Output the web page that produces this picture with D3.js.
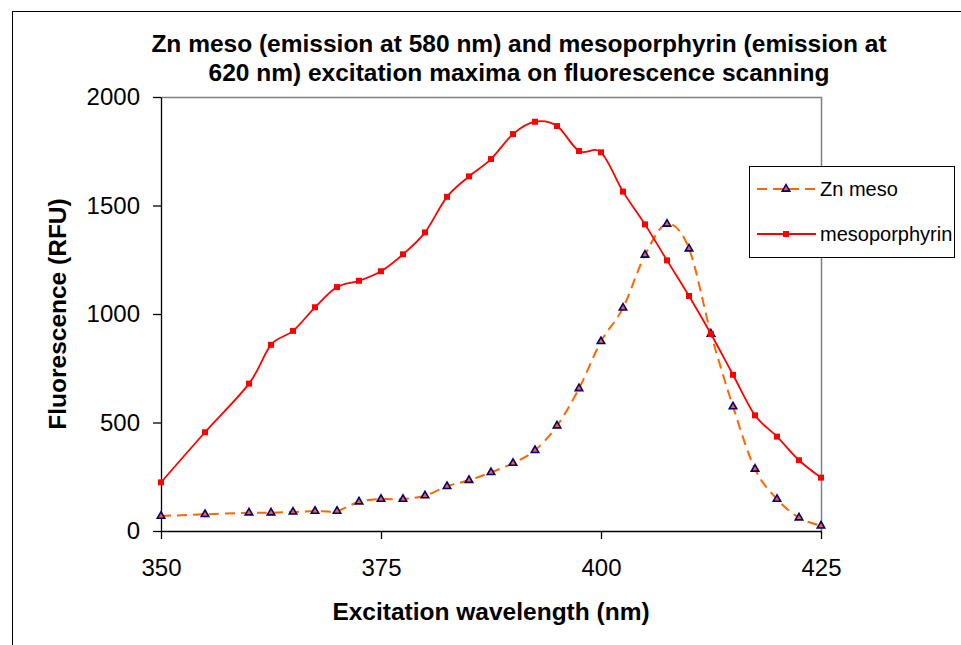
<!DOCTYPE html>
<html>
<head>
<meta charset="utf-8">
<script src="https://cdn.jsdelivr.net/npm/d3@7"></script>
<style>
  body { margin: 0; background: #fff; }
  svg { display: block; font-family: 'Liberation Sans', Arial, sans-serif; }
</style>
</head>
<body>
<div id="container"></div>
<script>
// Data
const wavelength = [350, 355, 360, 362.5, 365, 367.5, 370, 372.5, 375, 377.5, 380, 382.5, 385, 387.5,
  390, 392.5, 395, 397.5, 400, 402.5, 405, 407.5, 410, 412.5, 415, 417.5, 420, 422.5, 425];
const znMeso = [69, 77, 84, 84, 88, 92, 92, 135, 147, 147, 163, 206, 234, 270, 313, 372, 485,
  657, 874, 1028, 1272, 1415, 1301, 908, 573, 286, 147, 61, 24];
const mesoporphyrin = [224, 455, 679, 858, 922, 1031, 1124, 1153, 1197, 1275, 1376, 1540, 1634,
  1714, 1829, 1886, 1866, 1751, 1745, 1564, 1413, 1247, 1083, 908, 720, 533, 435, 326, 246];
const xTicks = [350, 375, 400, 425];
const yTicks = [0, 500, 1000, 1500, 2000];
const titleLines = ['Zn meso (emission at 580 nm) and mesoporphyrin (emission at',
  '620 nm) excitation maxima on fluorescence scanning'];
const seriesNames = ['Zn meso', 'mesoporphyrin'];

const svgWidth = 961;
const svgHeight = 645;
const plot = { left: 161, right: 821, top: 97, bottom: 531 };

const svg = d3
  .select('#container')
  .append('svg')
  .attr('width', svgWidth)
  .attr('height', svgHeight);

// chart area border
svg
  .append('rect')
  .attr('x', 12.5)
  .attr('y', 11.5)
  .attr('width', 1000)
  .attr('height', 700)
  .attr('fill', '#fff')
  .attr('stroke', '#000')
  .attr('stroke-width', 1);

// Title
svg
  .append('g')
  .selectAll('text')
  .data(titleLines)
  .enter()
  .append('text')
  .attr('x', 519)
  .attr('y', (d, i) => 43 + i * 29)
  .attr('dy', '0.36em')
  .attr('text-anchor', 'middle')
  .attr('font-size', '24.5px')
  .attr('font-weight', 'bold')
  .text(d => d);

// Scales
const xScale = d3.scaleLinear().domain([350, 425]).range([plot.left, plot.right]);
const yScale = d3.scaleLinear().domain([0, 2000]).range([plot.bottom, plot.top]);

// plot area border (top + right, grey)
svg
  .append('path')
  .attr('d', `M${plot.left},${plot.top + 0.5}H${plot.right + 0.5}V${plot.bottom}`)
  .attr('fill', 'none')
  .attr('stroke', '#808080')
  .attr('stroke-width', 1.5);

// X-AXIS
const xAxis = d3
  .axisBottom(xScale)
  .tickValues(xTicks)
  .tickFormat(d3.format('d'))
  .tickSizeInner(8)
  .tickSizeOuter(0)
  .tickPadding(20);

svg
  .append('g')
  .attr('transform', `translate(0,${plot.bottom})`)
  .call(xAxis)
  .call(g => g.selectAll('text').attr('font-size', '24px').attr('fill', '#000').attr('font-family', null))
  .call(g => g.selectAll('line, path').attr('stroke', '#000').attr('stroke-width', 1.3));

// Y-AXIS
const yAxis = d3
  .axisLeft(yScale)
  .tickValues(yTicks)
  .tickFormat(d3.format('d'))
  .tickSizeInner(8)
  .tickSizeOuter(0)
  .tickPadding(13);

svg
  .append('g')
  .attr('transform', `translate(${plot.left},0)`)
  .call(yAxis)
  .call(g => g.selectAll('text').attr('font-size', '24px').attr('fill', '#000').attr('font-family', null))
  .call(g => g.selectAll('line, path').attr('stroke', '#000').attr('stroke-width', 1.3));

// Axis titles
svg
  .append('text')
  .attr('x', (plot.left + plot.right) / 2)
  .attr('y', 611)
  .attr('dy', '0.36em')
  .attr('text-anchor', 'middle')
  .attr('font-size', '24.5px')
  .attr('font-weight', 'bold')
  .text('Excitation wavelength (nm)');

svg
  .append('text')
  .attr('transform', `translate(57,${(plot.top + plot.bottom) / 2}) rotate(-90)`)
  .attr('dy', '0.36em')
  .attr('text-anchor', 'middle')
  .attr('font-size', '24.5px')
  .attr('font-weight', 'bold')
  .text('Fluorescence (RFU)');

// Lines
const line = d3
  .line()
  .x(d => xScale(d[0]))
  .y(d => yScale(d[1]))
  .curve(d3.curveCardinal.tension(0));

const znPoints = wavelength.map((w, i) => [w, znMeso[i]]);
const mesoPoints = wavelength.map((w, i) => [w, mesoporphyrin[i]]);

const triangle = d3.symbol().type(d3.symbolTriangle).size(24);
const square = d3.symbol().type(d3.symbolSquare).size(36);

// Zn meso
svg
  .append('path')
  .datum(znPoints)
  .attr('d', line)
  .attr('fill', 'none')
  .attr('stroke', '#FF6600')
  .attr('stroke-width', 2)
  .attr('stroke-dasharray', '10,6');

svg
  .append('g')
  .selectAll('path')
  .data(znPoints)
  .enter()
  .append('path')
  .attr('transform', d => `translate(${xScale(d[0])},${yScale(d[1])})`)
  .attr('d', triangle)
  .attr('fill', '#FF6600')
  .attr('stroke', '#000080')
  .attr('stroke-width', 1.6);

// mesoporphyrin
svg
  .append('path')
  .datum(mesoPoints)
  .attr('d', line)
  .attr('fill', 'none')
  .attr('stroke', '#FF0000')
  .attr('stroke-width', 1.8);

svg
  .append('g')
  .selectAll('path')
  .data(mesoPoints)
  .enter()
  .append('path')
  .attr('transform', d => `translate(${xScale(d[0])},${yScale(d[1])})`)
  .attr('d', square)
  .attr('fill', '#FF0000');

// Legend
const legend = svg.append('g');

legend
  .append('rect')
  .attr('x', 749.5)
  .attr('y', 166.5)
  .attr('width', 205)
  .attr('height', 91)
  .attr('fill', '#fff')
  .attr('stroke', '#000')
  .attr('stroke-width', 1);

const rows = legend
  .selectAll('g')
  .data(seriesNames)
  .enter()
  .append('g')
  .attr('transform', (d, i) => `translate(0,${189 + i * 45})`);

rows
  .append('line')
  .attr('x1', 757)
  .attr('x2', 816)
  .attr('stroke', (d, i) => (i === 0 ? '#FF6600' : '#FF0000'))
  .attr('stroke-width', (d, i) => (i === 0 ? 2 : 1.8))
  .attr('stroke-dasharray', (d, i) => (i === 0 ? '10,6' : null));

rows
  .append('path')
  .attr('transform', 'translate(786,0)')
  .attr('d', (d, i) => (i === 0 ? triangle() : square()))
  .attr('fill', (d, i) => (i === 0 ? '#FF6600' : '#FF0000'))
  .attr('stroke', (d, i) => (i === 0 ? '#000080' : null))
  .attr('stroke-width', 1.6);

rows
  .append('text')
  .attr('x', 820)
  .attr('dy', '0.36em')
  .attr('font-size', '20px')
  .text(d => d);
</script>
</body>
</html>
